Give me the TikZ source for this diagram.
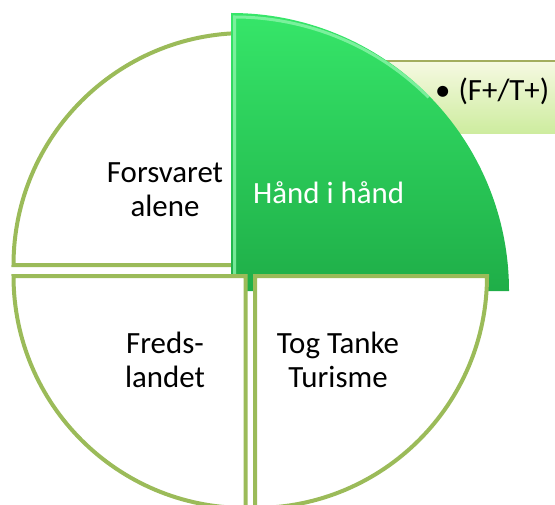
\documentclass[tikz,border=0pt]{standalone}
\usepackage{fontspec}
\setmainfont{Carlito}
\definecolor{olivebd}{HTML}{9BBB59}
\definecolor{greentop}{HTML}{36E669}
\definecolor{greenbot}{HTML}{1FAE48}
\definecolor{greenhi}{HTML}{8CF5AA}
\definecolor{boxtop}{HTML}{F6F9E2}
\definecolor{boxbot}{HTML}{CDEC9E}
\definecolor{boxline}{HTML}{A3AD5E}
\begin{document}
\begin{tikzpicture}[x=1bp,y=1bp,
  quad/.style={draw=olivebd, line width=4bp, fill=white, line join=miter},
  lbl/.style={font=\fontsize{31}{34.5}\selectfont, align=center, inner sep=0pt, text=black}]
\useasboundingbox (0,0) rectangle (555,-505);
\clip (0,0) rectangle (555,-505);
% callout box behind the green segment
\fill[top color=boxtop, bottom color=boxbot] (370,-61) rectangle (560,-134);
\draw[boxline, line width=1.5bp] (370,-61) -- (560,-61);
% top-left
\path[quad] (245.5,-265) -- (13.5,-265) arc[start angle=180,end angle=90,radius=232] -- cycle;
% green (exploded) segment
\shade[top color=greentop, bottom color=greenbot] (231,-291) -- (509,-291) arc[start angle=0,end angle=90,radius=278] -- cycle;
\draw[greenhi, line width=3bp, opacity=0.8] (234.5,-286) -- (234.5,-17) arc[start angle=90,end angle=45,radius=274.5];
\draw[greenhi, line width=2bp, opacity=0.5] (234.5,-17) ++(45:274.5) arc[start angle=45,end angle=25,radius=274.5];
% bottom-left
\path[quad] (245.5,-276) -- (245.5,-508) arc[start angle=270,end angle=180,radius=232] -- cycle;
% bottom-right
\path[quad] (255,-276) -- (487,-276) arc[start angle=0,end angle=-90,radius=232] -- cycle;
% labels
\node[lbl] (fa) at (165,-190) {Forsvaret\\alene};
\node[lbl, text=white, anchor=west] (hih) at (253,-193) {Hånd i hånd};
\node[lbl] (fl) at (165,-360) {Freds-\\landet};
\node[lbl] (tt) at (338,-360) {Tog Tanke\\Turisme};
\node[lbl, anchor=west] (ft) at (435,-91) {•\hspace{8bp}(F+/T+)};
\end{tikzpicture}
\end{document}
